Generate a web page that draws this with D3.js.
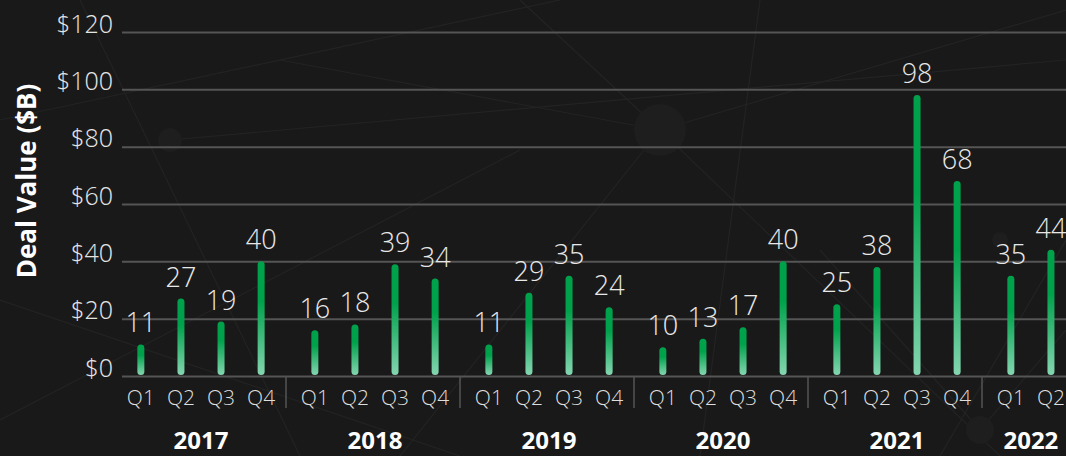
<!DOCTYPE html>
<html>
<head>
<meta charset="utf-8">
<script src="https://cdn.jsdelivr.net/npm/d3@7"></script>
<style>
  html, body { margin: 0; padding: 0; background: #191919; }
  svg { display: block; font-family: 'Open Sans', 'Noto Sans', sans-serif; }
  .thin { font-family: 'Open Sans Light', 'Open Sans', 'Noto Sans', sans-serif; font-weight: 300; }
</style>
</head>
<body>
<div id="chart"></div>
<script>
const years = ['2017', '2018', '2019', '2020', '2021', '2022']
const quarters = ['Q1', 'Q2', 'Q3', 'Q4']
// deal value per quarter, $B (2022 has only Q1 and Q2)
const dealValues = [
  [11, 27, 19, 40],
  [16, 18, 39, 34],
  [11, 29, 35, 24],
  [10, 13, 17, 40],
  [25, 38, 98, 68],
  [35, 44]
]
const yTicks = [0, 20, 40, 60, 80, 100, 120]

const width = 1066
const height = 456
const margin = {top: 32, left: 122, bottom: 80}
const groupWidth = 174
const firstGroup = 114

const svg = d3.select('#chart')
  .append('svg')
  .attr('width', width)
  .attr('height', height)

// faint network texture in the background
const bg = svg.append('g').attr('stroke', '#232323').attr('stroke-width', 1.2)
const webLines = [
  [0, 120, 560, 0], [0, 300, 460, 456], [80, 0, 300, 456], [170, 140, 1066, 60],
  [660, 130, 1066, 10], [660, 130, 400, 456], [660, 130, 1000, 456], [520, 0, 660, 130],
  [0, 420, 520, 150], [760, 0, 700, 456], [940, 456, 1066, 240], [980, 430, 820, 250],
  [280, 60, 660, 130], [980, 430, 1066, 330]
]
bg.selectAll('line').data(webLines).join('line')
  .attr('x1', d => d[0]).attr('y1', d => d[1])
  .attr('x2', d => d[2]).attr('y2', d => d[3])
svg.append('g').attr('fill', '#1e1e1e')
  .selectAll('circle').data([[660, 130, 26], [170, 140, 12], [980, 430, 14], [1000, 240, 8]]).join('circle')
  .attr('cx', d => d[0]).attr('cy', d => d[1]).attr('r', d => d[2])

const y = d3.scaleLinear()
  .domain([0, 120])
  .range([376, margin.top])

const xYear = d3.scaleBand()
  .domain(years)
  .range([firstGroup, firstGroup + groupWidth * years.length])
  .padding(0)

const xQuarter = d3.scaleBand()
  .domain(quarters)
  .range([0, groupWidth])
  .paddingOuter(0.17)
  .paddingInner(0)

const defs = svg.append('defs')
const grad = defs.append('linearGradient')
  .attr('id', 'barGrad')
  .attr('x1', 0).attr('y1', 0).attr('x2', 0).attr('y2', 1)
grad.append('stop').attr('offset', '0%').attr('stop-color', '#00a14b')
grad.append('stop').attr('offset', '35%').attr('stop-color', '#00a14b')
grad.append('stop').attr('offset', '100%').attr('stop-color', '#84d6b0')

// grid lines and y labels
const yAxis = d3.axisLeft(y)
  .tickValues(yTicks)
  .tickSize(-(width - margin.left))
  .tickFormat(d => '$' + d)
const yG = svg.append('g')
  .attr('transform', `translate(${margin.left},0)`)
  .call(yAxis)
yG.select('.domain').remove()
yG.selectAll('.tick line').attr('stroke', '#555').attr('stroke-width', 2)
yG.selectAll('.tick text')
  .attr('class', 'thin')
  .attr('x', -9)
  .attr('dy', 0)
  .attr('fill', '#e4e4e4')
  .attr('font-size', 25)

svg.append('text')
  .attr('transform', 'translate(36,181) rotate(-90)')
  .attr('text-anchor', 'middle')
  .attr('fill', '#ffffff')
  .attr('font-size', 26)
  .attr('font-weight', 700)
  .text('Deal Value ($B)')

// year separators
svg.append('g').selectAll('line')
  .data(years.slice(1))
  .join('line')
  .attr('x1', d => xYear(d) - 2).attr('x2', d => xYear(d) - 2)
  .attr('y1', y(0)).attr('y2', y(0) + 32)
  .attr('stroke', '#555').attr('stroke-width', 1.5)

const groups = svg.append('g').selectAll('g')
  .data(years)
  .join('g')
  .attr('transform', d => `translate(${xYear(d)},0)`)

const items = groups.selectAll('g.q')
  .data((d, i) => dealValues[i].map((v, j) => ({q: quarters[j], v})))
  .join('g')
  .attr('class', 'q')
  .attr('transform', d => `translate(${xQuarter(d.q) + xQuarter.bandwidth() / 2},0)`)

const barW = 7
items.append('rect')
  .attr('x', -barW / 2)
  .attr('width', barW)
  .attr('y', d => y(d.v))
  .attr('height', d => y(0) - 1 - y(d.v))
  .attr('rx', barW / 2)
  .attr('fill', 'url(#barGrad)')

items.append('text')
  .attr('class', 'thin')
  .attr('y', d => y(d.v) - 12)
  .attr('text-anchor', 'middle')
  .attr('fill', '#e8e8e8')
  .attr('font-size', 27)
  .text(d => d.v)

items.append('text')
  .attr('class', 'thin')
  .attr('y', 405)
  .attr('text-anchor', 'middle')
  .attr('fill', '#dedede')
  .attr('font-size', 21)
  .text(d => d.q)

// year labels, centred over the quarters present
groups.append('text')
  .attr('x', (d, i) => {
    const qs = dealValues[i].map((v, j) => xQuarter(quarters[j]) + xQuarter.bandwidth() / 2)
    return (qs[0] + qs[qs.length - 1]) / 2
  })
  .attr('y', 449)
  .attr('text-anchor', 'middle')
  .attr('fill', '#ffffff')
  .attr('font-size', 24)
  .attr('font-weight', 700)
  .text(d => d)
</script>
</body>
</html>
